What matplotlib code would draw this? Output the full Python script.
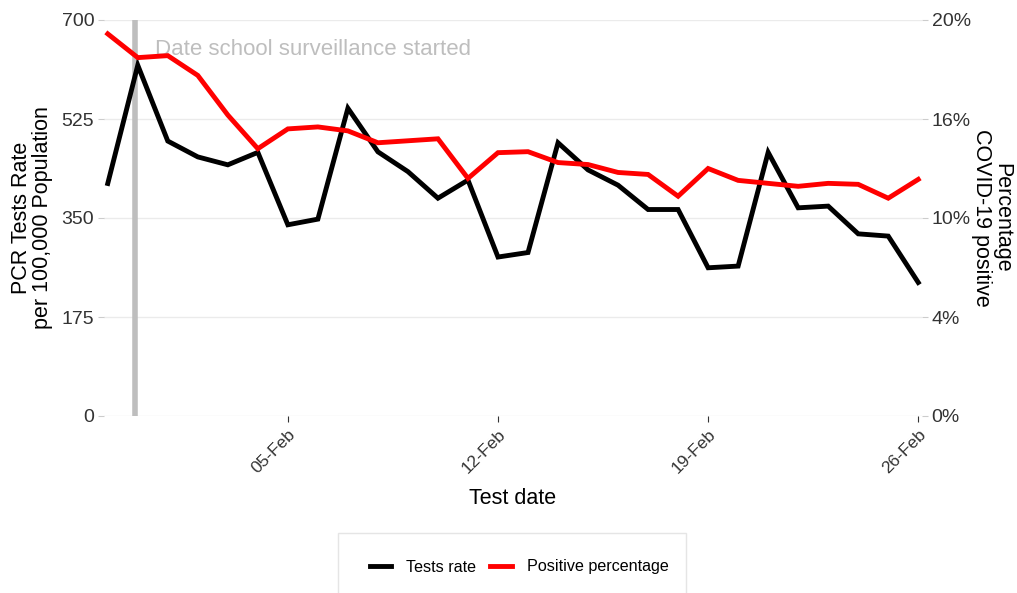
import matplotlib
matplotlib.use("Agg")
import matplotlib.pyplot as plt
import matplotlib.dates as mdates
import numpy as np
import pandas as pd
from matplotlib.patches import Rectangle

plt.rcParams['font.family'] = ['Liberation Sans', 'DejaVu Sans']

dates = pd.date_range("2021-01-30", "2021-02-26", freq="D")
tests_rate = [411, 620, 486, 458, 444, 466, 338, 348, 544, 467, 432, 385, 417, 281,
              289, 483, 435, 408, 365, 365, 262, 265, 466, 368, 371, 322, 318, 236]
positive_pct = [19.3, 18.1, 18.2, 17.2, 15.2, 13.5, 14.5, 14.6, 14.4, 13.8, 13.9, 14.0,
                12.0, 13.3, 13.35, 12.8, 12.7, 12.3, 12.2, 11.1, 12.5, 11.9, 11.75, 11.6,
                11.75, 11.7, 11.0, 11.95]
left_ticks = [0, 175, 350, 525, 700]
right_ticks = [0, 5, 10, 15, 20]
right_labels = ["0%", "4%", "10%", "16%", "20%"]
x_tick_dates = pd.to_datetime(["2021-02-05", "2021-02-12", "2021-02-19", "2021-02-26"])
x_tick_labels = ["05-Feb", "12-Feb", "19-Feb", "26-Feb"]
start_date = pd.Timestamp("2021-01-31")

W, H = 1017, 593
fig = plt.figure(figsize=(W / 100, H / 100), dpi=100)
ax = fig.add_axes([104 / W, 1 - 416 / H, (922 - 104) / W, (416 - 20) / H])
ax2 = ax.twinx()

for a in (ax, ax2):
    for s in a.spines.values():
        s.set_visible(False)

ax.set_ylim(0, 700)
ax.set_yticks(left_ticks)
ax.set_yticklabels([str(t) for t in left_ticks])
ax.grid(axis='y', color='#ebebeb', linewidth=1)
ax.set_axisbelow(True)
ax.set_xlim(dates[0] - pd.Timedelta(hours=3), dates[-1] + pd.Timedelta(hours=3))
ax.set_xticks(x_tick_dates)
ax.set_xticklabels(x_tick_labels, rotation=45, ha='right', va='top',
                   rotation_mode='anchor')
ax.tick_params(axis='x', length=4, color='#333333', labelsize=12.5, labelcolor='#333333', pad=4)
ax.tick_params(axis='y', length=4, color='#cccccc', labelsize=14, labelcolor='#333333', pad=3)

ax.axvline(start_date - pd.Timedelta(hours=2), color='#bebebe', linewidth=4, zorder=1)
ax.text(start_date + pd.Timedelta(hours=14), 648, "Date school surveillance started",
        color='#bebebe', fontsize=16, va='center', ha='left', zorder=2)

l1, = ax.plot(dates, tests_rate, color='black', linewidth=3.5, zorder=3,
              solid_joinstyle='miter')

ax2.set_ylim(0, 20)
ax2.set_yticks(right_ticks)
ax2.set_yticklabels(right_labels)
ax2.tick_params(axis='y', length=4, color='#cccccc', labelsize=14, labelcolor='#333333', pad=3)
l2, = ax2.plot(dates, positive_pct, color='red', linewidth=3.5, zorder=3,
               solid_joinstyle='miter')
ax2.set_zorder(ax.get_zorder() + 1)
ax2.patch.set_visible(False)

ax.set_ylabel("PCR Tests Rate\nper 100,000 Population", fontsize=15.5, linespacing=1.0,
              labelpad=6)
ax2.set_ylabel("Percentage\nCOVID-19 positive", fontsize=15.5, rotation=-90,
               linespacing=1.0, labelpad=30)
ax.set_xlabel("Test date", fontsize=15.5, labelpad=8)

fig.patches.append(Rectangle((338 / W, -0.01), (686 - 338) / W, (593 - 533) / H + 0.01,
                             transform=fig.transFigure, fill=False,
                             edgecolor='#e5e5e5', linewidth=1))
fig.legend([l1, l2], ["Tests rate", "Positive percentage"], loc='center',
           bbox_to_anchor=(519 / W, 1 - 567 / H), ncol=2, frameon=False,
           fontsize=11.6, handlelength=1.35, handleheight=0.7, columnspacing=0.9,
           handletextpad=0.9)

fig.savefig("out.png", dpi=100)
